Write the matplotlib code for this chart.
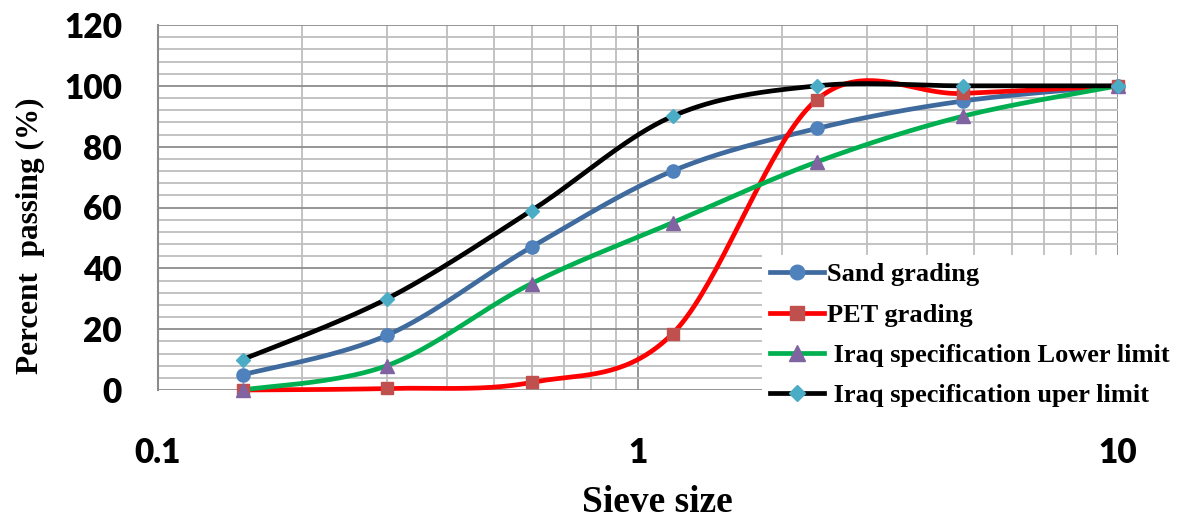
import numpy as np
import matplotlib
matplotlib.use("Agg")
import matplotlib.pyplot as plt
from matplotlib.ticker import FixedLocator, NullFormatter, MultipleLocator

sieve = [0.15, 0.3, 0.6, 1.18, 2.36, 4.75, 10]
sand = [5, 18, 47, 72, 86, 95, 100]
pet = [0, 0.5, 2.5, 18.5, 95.5, 97.5, 100]
lower = [0, 8, 35, 55, 75, 90, 100]
upper = [10, 30, 59, 90, 100, 100, 100]
labels = ["Sand grading", "PET grading", " Iraq specification Lower limit", " Iraq specification uper limit"]
xticks = [0.1, 1, 10]
xticklabels = ["0.1", "1", "10"]


def smooth(x, y, n=40):
    # Catmull-Rom (Excel-like smoothed line) in log-x space
    t = np.log10(np.asarray(x, float))
    y = np.asarray(y, float)
    P = np.column_stack([t, y])
    P = np.vstack([P[0], P, P[-1]])
    out = []
    for i in range(1, len(P) - 2):
        p0, p1, p2, p3 = P[i - 1], P[i], P[i + 1], P[i + 2]
        c1 = p1 + (p2 - p0) / 6.0
        c2 = p2 - (p3 - p1) / 6.0
        s = np.linspace(0, 1, n)[:, None]
        seg = ((1 - s) ** 3) * p1 + 3 * ((1 - s) ** 2) * s * c1 + 3 * (1 - s) * s ** 2 * c2 + s ** 3 * p2
        out.append(seg if i == 1 else seg[1:])
    out = np.vstack(out)
    return 10 ** out[:, 0], out[:, 1]


fig = plt.figure(figsize=(11.94, 5.23), dpi=100)
ax = fig.add_axes([158 / 1194, 1 - 390 / 523, (1118 - 158) / 1194, (390 - 25) / 523])
ax.set_xscale("log")
ax.set_xlim(0.1, 10)
ax.set_ylim(0, 120)

# grid
ax.yaxis.set_major_locator(MultipleLocator(20))
ax.yaxis.set_minor_locator(MultipleLocator(4))
ax.xaxis.set_major_locator(FixedLocator(xticks))
ax.xaxis.set_minor_locator(FixedLocator([m * d for d in (0.1, 1) for m in range(2, 10)]))
ax.xaxis.set_minor_formatter(NullFormatter())
ax.grid(which="minor", color="#BEBEBE", linewidth=1.3)
ax.grid(which="major", color="#8C8C8C", linewidth=1.3)
ax.set_axisbelow(True)
for sp in ["top", "right", "bottom"]:
    ax.spines[sp].set_visible(False)
ax.spines["left"].set_color("#8C8C8C")
ax.spines["left"].set_linewidth(1.5)

series = [
    (sand, "#3E6A9E", "#4F81BD", "o", 9.5),
    (pet, "#FF0000", "#C0504D", "s", 9),
    (lower, "#00B050", "#8064A2", "^", 10),
    (upper, "#000000", "#4BACC6", "D", 7),
]
handles = []
for (vals, lc, mc, mk, ms), lab in zip(series, labels):
    xs, ys = smooth(sieve, vals)
    ax.plot(xs, ys, color=lc, linewidth=3.4, solid_capstyle="round", zorder=3, clip_on=False)
    ax.plot(sieve, vals, linestyle="none", marker=mk, markersize=ms, color=mc, zorder=4, clip_on=False)
    h, = ax.plot([], [], color=lc, linewidth=3.4, marker=mk, markersize=ms + 1, markerfacecolor=mc, markeredgecolor=mc)
    handles.append(h)

ax.set_xticks(xticks)
ax.set_xticklabels(xticklabels)
ax.tick_params(axis="both", which="both", length=0)
ax.tick_params(axis="x", pad=34)
ax.tick_params(axis="y", pad=26)
for lab in ax.get_xticklabels() + ax.get_yticklabels():
    lab.set_fontfamily("Lato")
    lab.set_fontweight("heavy")
    lab.set_fontsize(24)

fig.text(30 / 1194, 1 - 236 / 523, "Percent  passing (%)", rotation=90, ha="center", va="center",
         family="Liberation Serif", fontweight="bold", fontsize=22.5)
fig.text(657 / 1194, 1 - 503 / 523, "Sieve size", ha="center", va="center",
         family="Liberation Serif", fontweight="bold", fontsize=27)

leg = fig.legend(handles=handles, labels=labels, loc="upper left",
                 bbox_to_anchor=(762 / 1194, 1 - 255 / 523),
                 prop={"family": "Liberation Serif", "weight": "bold", "size": 19},
                 frameon=True, facecolor="white", edgecolor="none", framealpha=1,
                 handlelength=2.05, handletextpad=0.1, labelspacing=0.64, borderpad=0.3,
                 borderaxespad=0, fancybox=False)

fig.savefig("out.png", dpi=100)
